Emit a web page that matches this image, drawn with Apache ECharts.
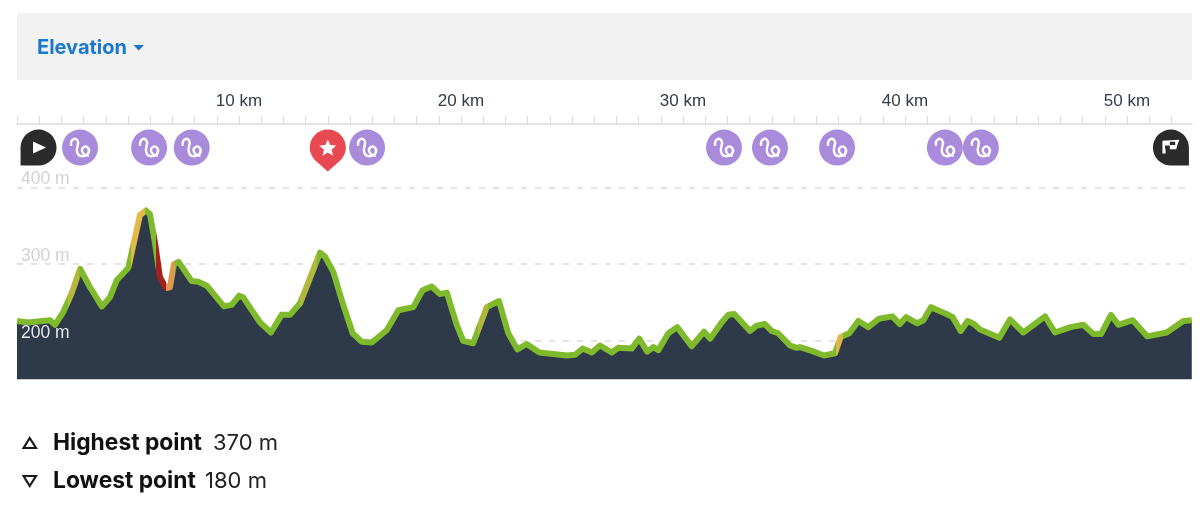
<!DOCTYPE html>
<html>
<head>
<meta charset="utf-8">
<title>Elevation</title>
<style>
    html, body { margin: 0; padding: 0; background: #fff; }
    #chart { width: 1200px; height: 512px; }
</style>
<script src="https://cdn.jsdelivr.net/npm/echarts@6/dist/echarts.min.js"></script>
</head>
<body>
<div id="chart"></div>
<script>
// profile
var distanceKm = [0, 0.5, 1.49, 1.71, 2.09, 2.46, 2.84, 3.29, 3.82, 4.19, 4.49, 5.01, 5.54, 5.8, 5.99, 6.22, 6.44, 6.71, 6.89, 7.07, 7.28, 7.87, 8.17, 8.55, 9.32, 9.67, 10.01, 10.18, 10.95, 11.44, 11.92, 12.3, 12.75, 13.65, 13.87, 14.25, 14.63, 15.12, 15.53, 15.98, 16.65, 17.18, 17.85, 18.27, 18.68, 19.05, 19.36, 19.81, 20.1, 20.55, 21.16, 21.71, 22.13, 22.54, 22.96, 23.53, 24.76, 25.14, 25.48, 25.89, 26.26, 26.79, 27.09, 27.69, 28.03, 28.39, 28.66, 28.89, 29.34, 29.74, 30.39, 30.95, 31.22, 31.74, 32.04, 32.31, 33.02, 33.32, 33.69, 33.99, 34.29, 34.82, 35.12, 35.27, 35.8, 36.35, 36.85, 37.1, 37.49, 37.9, 38.35, 38.83, 39.43, 39.77, 40.05, 40.55, 40.83, 41.17, 41.95, 42.15, 42.51, 42.82, 43.11, 43.38, 44.25, 44.73, 45.33, 46.31, 46.76, 47.46, 48.03, 48.49, 48.83, 49.28, 49.61, 50.26, 50.91, 51.79, 52.54, 52.92];
var elevationM = [226, 224, 227, 221, 238, 262, 294, 270, 245, 257, 279, 295, 364, 370, 365, 327, 283, 269, 270, 300, 303, 278, 277, 272, 245, 247, 259, 257, 224, 211, 234, 234, 249, 315, 310, 290, 253, 210, 199, 198, 214, 240, 244, 266, 271, 261, 263, 221, 200, 197, 244, 252, 210, 189, 196, 185, 181, 182, 190, 185, 194, 185, 191, 190, 203, 186, 192, 188, 210, 218, 193, 212, 203, 224, 234, 235, 213, 220, 222, 213, 210, 194, 191, 192, 187, 181, 184, 205, 210, 226, 218, 229, 232, 222, 231, 223, 227, 244, 234, 231, 213, 226, 222, 215, 204, 228, 211, 232, 211, 218, 221, 209, 209, 234, 221, 227, 206, 211, 226, 227];

var elevationTicks = [200, 300, 400];
var kmLabels = [10, 20, 30, 40, 50];
var kmTicks = [0, 1, 2, 3, 4, 5, 6, 7, 8, 9, 10, 11, 12, 13, 14, 15, 16, 17, 18, 19, 20, 21, 22, 23, 24, 25, 26, 27, 28, 29, 30, 31, 32, 33, 34, 35, 36, 37, 38, 39, 40, 41, 42, 43, 44, 45, 46, 47, 48, 49, 50, 51, 52];

// steepness colours along the route
var slopeStart = [2.3, 5.15, 6.25, 6.7, 12.75, 20.75, 36.9];
var slopeEnd = [2.8, 5.75, 6.7, 7.1, 13.5, 21.2, 37.2];
var slopeColor = ['#b5b83c', '#e3b948', '#a3201c', '#dd9a4c', '#b0b83c', '#b0b83c', '#dcb848'];

// markers above the profile
var waypointKm = [2.84, 5.95, 7.87, 15.77, 31.85, 33.92, 36.94, 41.8, 43.42];
var startKm = [0.97];
var highlightKm = [14.0];
var finishKm = [51.98];

var GREEN = '#7fb92c';
var AREA = '#2e3949';
var MARKER_LEVEL = 452;
var Y_MIN = 150;
var Y_MAX = 482.7;
var X_MAX = 52.93;

var SQUIGGLE = 'path://M1 6C0 1 4 -1 6 2C8 5 4 7 6 12C7 15 11 15 14 13C17 10 14 5 11 7C8 9 10 14 15 14';
var PIN_START = 'path://M18 0A18 18 0 0 1 18 36H0V18A18 18 0 0 1 18 0Z';
var PIN_FINISH = 'path://M18 0A18 18 0 0 1 36 18V36H18A18 18 0 0 1 18 0Z';
var PIN_STAR = 'path://M18 0C28 0 36 8 36 18C36 24 33 28 31 30.5L18 42L5 30.5C3 28 0 24 0 18C0 8 8 0 18 0Z';
var STAR = 'path://M10 0L12.9 6.6L20 7.2L14.6 12L16.2 19L10 15.3L3.8 19L5.4 12L0 7.2L7.1 6.6Z';
var PLAY = 'path://M0 0L13 6L0 12Z';
var FLAG = 'path://M0 1L16 0L14 5L13 9H3V13H0ZM7 2V5H12V2ZM2.5 5.5V9H7V5.5Z';

function zip(xs, ys) {
    var arr = [];
    for (var i = 0; i < xs.length; i++) {
        arr.push([xs[i], ys[i]]);
    }
    return arr;
}

function atLevel(xs) {
    var arr = [];
    for (var i = 0; i < xs.length; i++) {
        arr.push([xs[i], MARKER_LEVEL]);
    }
    return arr;
}

function slopePieces() {
    var pieces = [];
    for (var i = 0; i < slopeStart.length; i++) {
        pieces.push({ gte: slopeStart[i], lt: slopeEnd[i], color: slopeColor[i] });
    }
    return pieces;
}

function markerSeries(xs, symbol, size, color, extra) {
    var s = {
        type: 'scatter',
        silent: true,
        z: 6,
        symbol: symbol,
        symbolSize: size,
        symbolKeepAspect: true,
        itemStyle: { color: color, opacity: 1 },
        data: atLevel(xs)
    };
    for (var k in extra) {
        s[k] = extra[k];
    }
    return s;
}

var myChart = echarts.init(document.getElementById('chart'));

var option = {
    animation: false,
    backgroundColor: '#fff',
    textStyle: { fontFamily: 'Liberation Sans' },
    grid: { left: 17, right: 8, top: 124, bottom: 132.7 },
    xAxis: {
        type: 'value',
        position: 'top',
        min: 0,
        max: X_MAX,
        axisLine: { show: true, onZero: false, lineStyle: { color: '#dcdcdc', width: 1.5 } },
        axisTick: { show: true, length: 8, customValues: kmTicks, lineStyle: { color: '#dcdcdc', width: 1 } },
        axisLabel: {
            customValues: kmLabels,
            margin: 14,
            fontSize: 17,
            color: '#333c4a',
            formatter: function (v) { return v + ' km'; }
        },
        splitLine: { show: false }
    },
    yAxis: [{
        type: 'value',
        min: Y_MIN,
        max: Y_MAX,
        axisLine: { show: false },
        axisTick: { show: false, customValues: elevationTicks },
        axisLabel: { show: false, customValues: elevationTicks },
        splitLine: { show: true, lineStyle: { color: '#d9d9d9', width: 1.5, type: [6, 8] } }
    }, {
        // labels go on a second axis so they stay above the filled area
        type: 'value',
        position: 'left',
        z: 4,
        min: Y_MIN,
        max: Y_MAX,
        axisLine: { show: false },
        axisTick: { show: false, customValues: elevationTicks },
        splitLine: { show: false },
        axisLabel: {
            customValues: elevationTicks,
            inside: true,
            margin: 4,
            fontSize: 17.5,
            verticalAlign: 'bottom',
            lineHeight: 16,
            color: function (v) { return v == 200 ? '#e6e6e6' : '#d2d2d2'; },
            formatter: function (v) { return v + ' m'; }
        }
    }],
    visualMap: {
        show: false,
        type: 'piecewise',
        seriesIndex: 0,
        dimension: 0,
        pieces: slopePieces(),
        outOfRange: { color: GREEN }
    },
    series: [
        {
            type: 'line',
            silent: true,
            z: 2,
            showSymbol: false,
            symbol: 'none',
            smooth: false,
            lineStyle: { width: 6, join: 'round' },
            areaStyle: { color: AREA, opacity: 1 },
            data: zip(distanceKm, elevationM)
        },
        markerSeries(waypointKm, 'circle', 36, '#a98bdb'),
        markerSeries(waypointKm, SQUIGGLE, 18, 'rgba(0,0,0,0)', {
            z: 7,
            itemStyle: { color: 'rgba(0,0,0,0)', borderColor: '#fff', borderWidth: 2.4, opacity: 1 }
        }),
        markerSeries(startKm, PIN_START, 36, '#2b2b2b'),
        markerSeries(startKm, PLAY, 13, '#fff', { z: 7, symbolOffset: [1, 0] }),
        markerSeries(highlightKm, PIN_STAR, 42, '#e8484f', { symbolOffset: [0, 3] }),
        markerSeries(highlightKm, STAR, 17, '#fff', { z: 7 }),
        markerSeries(finishKm, PIN_FINISH, 36, '#2b2b2b'),
        markerSeries(finishKm, FLAG, 17, '#fff', { z: 7, symbolOffset: [0, -1] })
    ],
    graphic: [
        { type: 'rect', silent: true, z: -1, shape: { x: 17, y: 13, width: 1175, height: 67 }, style: { fill: '#f2f2f2' } },
        { type: 'text', silent: true, x: 37, y: 47.5, style: { text: 'Elevation', fill: '#1a78cf', font: '700 20px Inter', textVerticalAlign: 'middle' } },
        { type: 'polygon', silent: true, shape: { points: [[133.5, 45], [144, 45], [138.7, 50.5]] }, style: { fill: '#1a78cf' } },
        { type: 'polygon', silent: true, shape: { points: [[29.7, 438], [36, 448], [23.6, 448]] }, style: { fill: 'none', stroke: '#1c1c1c', lineWidth: 2.2 } },
        { type: 'text', silent: true, x: 53, y: 443, style: { text: 'Highest point', fill: '#111', font: '700 22.8px Inter', textVerticalAlign: 'middle' } },
        { type: 'text', silent: true, x: 213, y: 443, style: { text: '370 m', fill: '#222', font: '400 22px Inter', textVerticalAlign: 'middle' } },
        { type: 'polygon', silent: true, shape: { points: [[23.6, 476], [36, 476], [29.7, 486]] }, style: { fill: 'none', stroke: '#1c1c1c', lineWidth: 2.2 } },
        { type: 'text', silent: true, x: 53, y: 481, style: { text: 'Lowest point', fill: '#111', font: '700 22.8px Inter', textVerticalAlign: 'middle' } },
        { type: 'text', silent: true, x: 205, y: 481, style: { text: '180 m', fill: '#222', font: '400 22px Inter', textVerticalAlign: 'middle' } }
    ]
};

myChart.setOption(option);
</script>
</body>
</html>
